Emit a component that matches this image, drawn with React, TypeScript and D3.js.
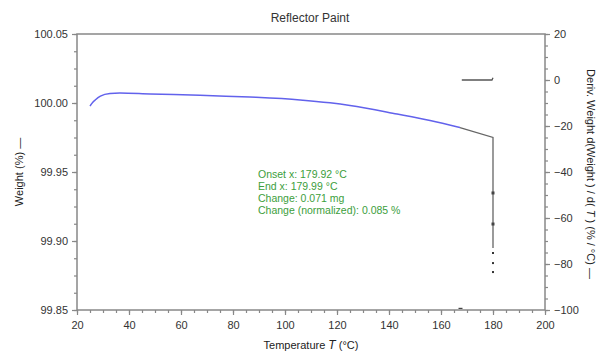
import React, { useEffect, useRef } from 'react';
import * as d3 from 'd3';

// weight curve
const tempC = [25, 26, 27, 29, 32.7, 36.5, 48.1, 67.3, 86.5, 105.8, 117.3, 125, 143.1, 155.8, 167.3];
const weightPct = [99.9978, 100.0004, 100.0022, 100.005, 100.0069, 100.0072, 100.0065, 100.0057, 100.0043, 100.0022, 100.0001, 99.9982, 99.992, 99.9873, 99.9822];
// tail of the weight curve (analysis region, dark)
const tailT = [167.3, 180, 180];
const tailW = [99.9822, 99.975, 99.895];
const dropDots = [99.8913, 99.884, 99.8775];
const dropMarks = [99.9348, 99.9123];
// derivative curve
const derivT = [168, 179.6, 180];
const derivVal = [0, 0, 1];
const derivLowT = [167.5];

const xTicks = [20, 40, 60, 80, 100, 120, 140, 160, 180, 200];
const yTicks = [99.85, 99.9, 99.95, 100.0, 100.05];
const y2Ticks = [20, 0, -20, -40, -60, -80, -100];
const notes = ['Onset x: 179.92 °C', 'End x: 179.99 °C', 'Change: 0.071 mg', 'Change (normalized): 0.085 %'];

export default function App() {
  const ref = useRef<SVGSVGElement>(null);

  useEffect(() => {
    const svg = d3.select(ref.current);
    svg.selectAll('*').remove();
    const left = 77, right = 545, top = 34, bottom = 310;
    const axisColor = '#888';
    const font = 'Arial, "Liberation Sans", sans-serif';

    const x = d3.scaleLinear().domain([20, 200]).range([left, right]);
    const y = d3.scaleLinear().domain([99.85, 100.05]).range([bottom, top]);
    const y2 = d3.scaleLinear().domain([-100, 20]).range([bottom, top]);

    // frame
    svg.append('rect')
      .attr('x', left).attr('y', top)
      .attr('width', right - left).attr('height', bottom - top)
      .attr('fill', 'none').attr('stroke', axisColor).attr('stroke-width', 1.5);

    const styleAxis = (g: any) => {
      g.select('.domain').remove();
      g.selectAll('line').attr('stroke', axisColor).attr('stroke-width', 1.2);
      g.selectAll('text').attr('fill', '#333').style('font-family', font).style('font-size', '11px');
    };

    // bottom axis
    svg.append('g').attr('transform', `translate(0,${bottom})`)
      .call(d3.axisBottom(x).tickValues(d3.range(20, 201, 5)).tickSize(3).tickFormat(() => ''))
      .call(styleAxis);
    svg.append('g').attr('transform', `translate(0,${bottom})`)
      .call(d3.axisBottom(x).tickValues(xTicks).tickSize(5).tickPadding(6).tickFormat(d3.format('d')))
      .call(styleAxis);

    // left axis
    svg.append('g').attr('transform', `translate(${left},0)`)
      .call(d3.axisLeft(y).tickValues(d3.range(0, 17).map(i => 99.85 + i * 0.0125)).tickSize(3).tickFormat(() => ''))
      .call(styleAxis);
    svg.append('g').attr('transform', `translate(${left},0)`)
      .call(d3.axisLeft(y).tickValues(yTicks).tickSize(5).tickPadding(4).tickFormat(d3.format('.2f')))
      .call(styleAxis);

    // right axis
    svg.append('g').attr('transform', `translate(${right},0)`)
      .call(d3.axisRight(y2).tickValues(d3.range(-100, 21, 5)).tickSize(3).tickFormat(() => ''))
      .call(styleAxis);
    svg.append('g').attr('transform', `translate(${right},0)`)
      .call(d3.axisRight(y2).tickValues(y2Ticks).tickSize(5).tickPadding(4).tickFormat(d3.format('d')))
      .call(styleAxis);

    // weight curve
    const line = d3.line<number>()
      .x((d, i) => x(tempC[i]))
      .y(d => y(d))
      .curve(d3.curveMonotoneX);
    svg.append('path').attr('d', line(weightPct))
      .attr('fill', 'none').attr('stroke', '#6262ec').attr('stroke-width', 1.5);

    const tail = d3.line<number>().x((d, i) => x(tailT[i])).y(d => y(d));
    svg.append('path').attr('d', tail(tailW))
      .attr('fill', 'none').attr('stroke', '#666').attr('stroke-width', 1.3);

    svg.selectAll('.dot').data(dropDots).enter().append('rect')
      .attr('x', x(180) - 1).attr('y', d => y(d) - 1)
      .attr('width', 2).attr('height', 2).attr('fill', '#333');
    svg.selectAll('.mark').data(dropMarks).enter().append('rect')
      .attr('x', x(180) - 1.5).attr('y', d => y(d) - 1.5)
      .attr('width', 3).attr('height', 3).attr('fill', '#444');

    // derivative curve
    const dline = d3.line<number>().x((d, i) => x(derivT[i])).y(d => y2(d));
    svg.append('path').attr('d', dline(derivVal))
      .attr('fill', 'none').attr('stroke', '#555').attr('stroke-width', 1.3);
    svg.selectAll('.low').data(derivLowT).enter().append('line')
      .attr('x1', d => x(d) - 2).attr('x2', d => x(d) + 2)
      .attr('y1', y2(-99.3)).attr('y2', y2(-99.3))
      .attr('stroke', '#444').attr('stroke-width', 1.2);

    // title and labels
    svg.append('text').attr('x', 310).attr('y', 22).attr('text-anchor', 'middle')
      .style('font-family', font).style('font-size', '12px').attr('fill', '#333')
      .text('Reflector Paint');

    const xl = svg.append('text').attr('x', 311).attr('y', 349).attr('text-anchor', 'middle')
      .style('font-family', font).style('font-size', '11px').attr('fill', '#222');
    xl.append('tspan').text('Temperature ');
    xl.append('tspan').style('font-style', 'italic').style('font-size', '12px').text('T');
    xl.append('tspan').text(' (°C)');

    svg.append('text').attr('transform', 'translate(23,172) rotate(-90)').attr('text-anchor', 'middle')
      .style('font-family', font).style('font-size', '11px').attr('fill', '#222')
      .text('Weight  (%) —');

    const rl = svg.append('text').attr('transform', 'translate(587,174) rotate(90)').attr('text-anchor', 'middle')
      .style('font-family', font).style('font-size', '11px').attr('fill', '#222');
    rl.append('tspan').text('Deriv. Weight d(Weight ) / d( ');
    rl.append('tspan').style('font-style', 'italic').text('T');
    rl.append('tspan').text(' ) (% / °C) —');

    // annotation
    svg.append('g').selectAll('text').data(notes).enter().append('text')
      .attr('x', 258).attr('y', (d, i) => 178 + i * 12)
      .style('font-family', font).style('font-size', '10.5px').attr('fill', '#3c9e3c')
      .text(d => d);
  }, []);

  return (
    <svg ref={ref} width={600} height={352}
      style={{ position: 'fixed', left: 0, top: 0, background: '#fff' }} />
  );
}
